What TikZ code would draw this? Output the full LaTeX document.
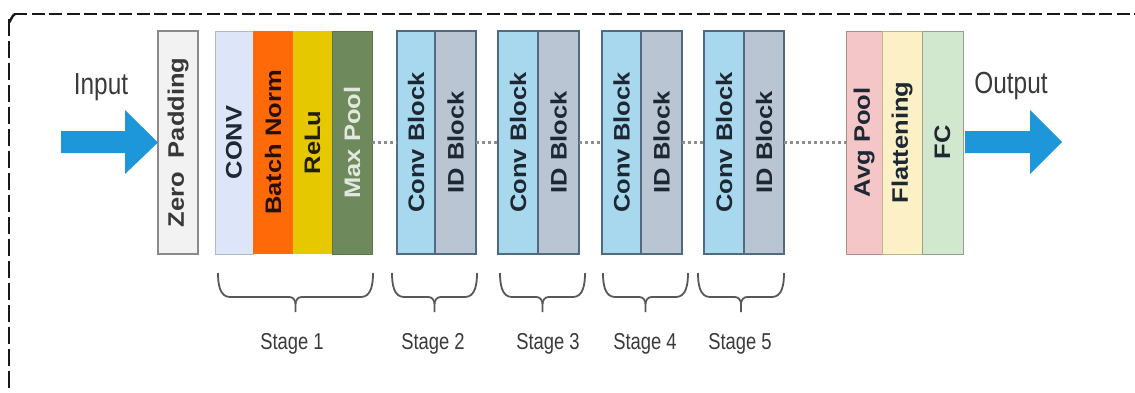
\documentclass[tikz,border=0pt]{standalone}
\usepackage{fontspec}
\setmainfont{Liberation Sans}
\usepackage{graphicx}
\definecolor{zpfill}{HTML}{F2F2F2}
\definecolor{zpdraw}{HTML}{8A8A8A}
\definecolor{convfill}{HTML}{DCE6F8}
\definecolor{bnfill}{HTML}{FF6A08}
\definecolor{relufill}{HTML}{E6C800}
\definecolor{mpfill}{HTML}{6E8A5C}
\definecolor{cbfill}{HTML}{A8D8EE}
\definecolor{idfill}{HTML}{B9C5D3}
\definecolor{stdraw}{HTML}{506A80}
\definecolor{avgfill}{HTML}{F4C6C8}
\definecolor{flatfill}{HTML}{FCF0C6}
\definecolor{fcfill}{HTML}{D2E8CE}
\definecolor{arrowblue}{HTML}{1E96DA}
\definecolor{txtdark}{HTML}{1E2833}
\definecolor{labgray}{HTML}{3A3A3A}
\newcommand{\vtxt}[1]{\rotatebox{90}{\scalebox{1}[0.88]{#1}}}
\newcommand{\htxt}[1]{\scalebox{0.8}[1]{#1}}
\newcommand{\stbrace}[2]{%
  \pgfmathsetmacro{\bxc}{0.5*#1+0.5*#2}%
  \pgfmathsetmacro{\bxl}{#1+12}%
  \pgfmathsetmacro{\bxr}{#2-12}%
  \pgfmathsetmacro{\bxcl}{\bxc-6}%
  \pgfmathsetmacro{\bxcr}{\bxc+6}%
  \draw[bracestyle] (#1,273) to[out=-90,in=180] (\bxl,297) -- (\bxcl,297)
    to[out=0,in=90] (\bxc,304) -- (\bxc,312);
  \draw[bracestyle] (#2,273) to[out=-90,in=0] (\bxr,297) -- (\bxcr,297)
    to[out=180,in=90] (\bxc,304);
}
\begin{document}
\begin{tikzpicture}[x=1pt,y=-1pt,
  blk/.style={anchor=north west, minimum height=223, inner sep=0pt, outer sep=0pt,
    font=\fontsize{25.5}{30}\selectfont\bfseries, text=txtdark},
  stblk/.style={blk, draw=stdraw, line width=1.2pt},
  dotline/.style={draw=gray!90, line width=2.4pt, dash pattern=on 3pt off 3pt},
  bracestyle/.style={draw=labgray!85, line width=1.8pt},
  stagelab/.style={anchor=base, font=\fontsize{23}{26}\selectfont, text=labgray},
  iolab/.style={anchor=base, font=\fontsize{30.5}{34}\selectfont, text=labgray}]
\useasboundingbox (0,0) rectangle (1135,392);
\fill[white] (0,0) rectangle (1135,392);
% dashed frame (cropped at right and bottom)
\draw[black!90, line width=2.4pt, dash pattern=on 13pt off 4.5pt] (14,14) -- (1140,14);
\draw[black!90, line width=2.4pt, dash pattern=on 17pt off 5pt] (9,19) -- (9,400);
\draw[black!90, line width=2.4pt] (9,22) to[out=-90,in=180,looseness=0.6] (15,14);
% blocks
\node[blk, draw=zpdraw, line width=1.1pt, fill=zpfill, minimum width=40, text=black!78] (zp) at (158,31) {\vtxt{Zero\hspace{0.55em}Padding}};
\node[blk, fill=convfill, draw=convfill!80!black, line width=0.6pt, minimum width=38] (conv) at (215,31) {\vtxt{CONV}};
\node[blk, fill=bnfill, minimum width=40, text=black!85!bnfill] (bn) at (253,31) {\vtxt{Batch Norm}};
\node[blk, fill=relufill, minimum width=39, text=black!85!relufill] (relu) at (293,31) {\vtxt{ReLu}};
\node[blk, fill=mpfill, draw=mpfill!85!black, line width=0.6pt, minimum width=40, text=white!80!mpfill] (mp) at (332,31) {\vtxt{Max Pool}};
% stage 2-5
\node[stblk, fill=cbfill, minimum width=38] (cb2) at (397,31) {\vtxt{Conv Block}};
\node[stblk, fill=idfill, minimum width=41] (id2) at (435,31) {\vtxt{ID Block}};
\node[stblk, fill=cbfill, minimum width=40] (cb3) at (498,31) {\vtxt{Conv Block}};
\node[stblk, fill=idfill, minimum width=41] (id3) at (538,31) {\vtxt{ID Block}};
\node[stblk, fill=cbfill, minimum width=39] (cb4) at (602,31) {\vtxt{Conv Block}};
\node[stblk, fill=idfill, minimum width=41] (id4) at (641,31) {\vtxt{ID Block}};
\node[stblk, fill=cbfill, minimum width=40] (cb5) at (704,31) {\vtxt{Conv Block}};
\node[stblk, fill=idfill, minimum width=40] (id5) at (744,31) {\vtxt{ID Block}};
% head
\node[blk, fill=avgfill, draw=avgfill!70!black, line width=0.8pt, minimum width=36] (avg) at (846,31) {\vtxt{Avg Pool}};
\node[blk, fill=flatfill, draw=flatfill!75!black, line width=0.8pt, minimum width=40] (flat) at (882,31) {\vtxt{Flattening}};
\node[blk, fill=fcfill, draw=fcfill!70!black, line width=0.8pt, minimum width=41] (fc) at (922,31) {\vtxt{FC}};
% dotted connectors
\draw[dotline] (mp.east) -- (cb2.west);
\draw[dotline] (id2.east) -- (cb3.west);
\draw[dotline] (id3.east) -- (cb4.west);
\draw[dotline] (id4.east) -- (cb5.west);
\draw[dotline] (id5.east) -- (avg.west);
% arrows
\coordinate (intail) at (61,131);
\coordinate (outtail) at (965,131);
\fill[arrowblue] (intail) -- (125,131) -- (125,110) -- (zp.west) -- (125,174) -- (125,153) -- (61,153) -- cycle;
\fill[arrowblue] (outtail) -- (1030,131) -- (1030,110) -- (1062,142) -- (1030,174) -- (1030,153) -- (965,153) -- cycle;
% io labels
\node[iolab] (inlab) at (101,94) {\htxt{Input}};
\node[iolab] (outlab) at (1011,93) {\htxt{Output}};
% braces
\stbrace{218}{373}
\stbrace{392}{477}
\stbrace{500}{585}
\stbrace{603}{688}
\stbrace{698}{784}
% stage labels
\node[stagelab] (s1) at (292,349) {\htxt{Stage 1}};
\node[stagelab] (s2) at (433,349) {\htxt{Stage 2}};
\node[stagelab] (s3) at (548,349) {\htxt{Stage 3}};
\node[stagelab] (s4) at (645,349) {\htxt{Stage 4}};
\node[stagelab] (s5) at (740,349) {\htxt{Stage 5}};
\end{tikzpicture}
\end{document}
